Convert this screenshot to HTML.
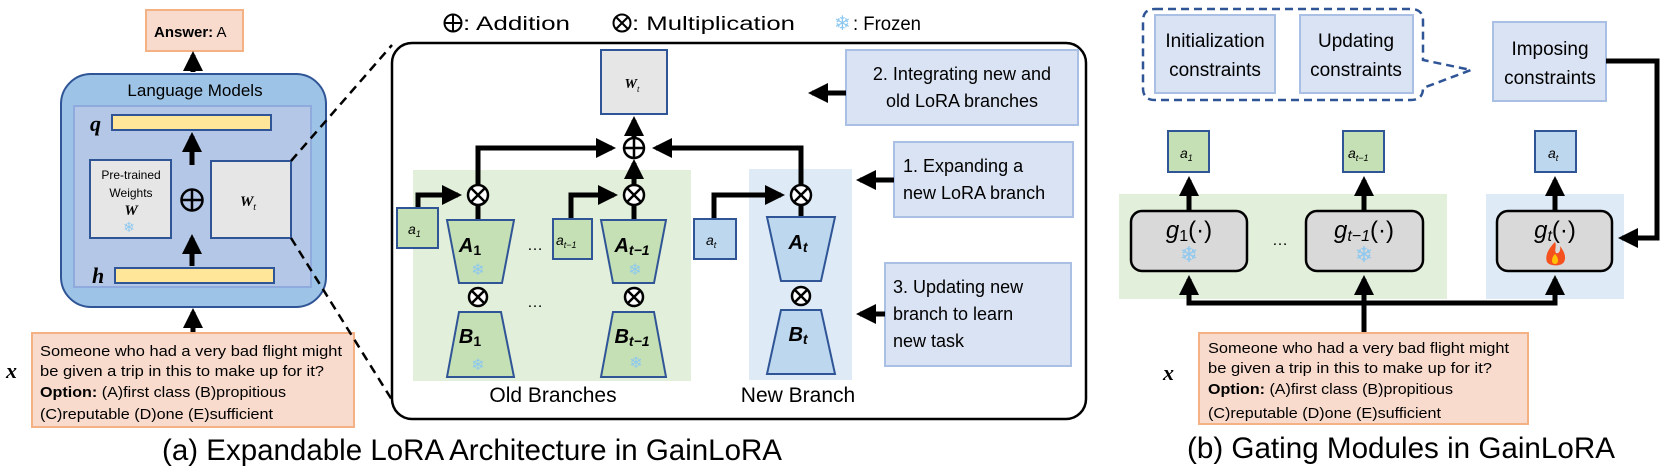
<!DOCTYPE html>
<html><head><meta charset="utf-8"><style>
html,body{margin:0;padding:0;background:#fff;}
svg{display:block;}
text{font-family:"Liberation Sans",sans-serif;}
.serif{font-family:"Liberation Serif",serif;font-style:italic;}
</style></head><body>
<svg width="1661" height="469" viewBox="0 0 1661 469" xmlns="http://www.w3.org/2000/svg">
<defs>
<marker id="ah" markerWidth="4" markerHeight="4" refX="3.2" refY="2" orient="auto" markerUnits="strokeWidth">
<path d="M0,0 L4,2 L0,4 Z" fill="#000"/></marker>
</defs>

<!-- ===== Left panel ===== -->
<rect x="146" y="10" width="97" height="41" fill="#f8dbcd" stroke="#f4b183" stroke-width="2"/>
<text x="154" y="37" font-size="15"><tspan font-weight="bold">Answer:</tspan> A</text>
<line x1="193" y1="72" x2="193" y2="55" stroke="#000" stroke-width="5" marker-end="url(#ah)"/>

<rect x="61" y="74" width="265" height="233" rx="30" fill="#9dc3e6" stroke="#2f5597" stroke-width="2"/>
<text x="195" y="96" font-size="17" text-anchor="middle">Language Models</text>
<rect x="74" y="106" width="237" height="181" fill="#b4c7e7" stroke="#8faadc" stroke-width="2"/>
<text x="90" y="131" font-size="22" class="serif" font-weight="bold">q</text>
<rect x="112" y="115" width="159" height="15" fill="#ffe699" stroke="#2f5597" stroke-width="2"/>
<line x1="192" y1="165" x2="192" y2="136" stroke="#000" stroke-width="5" marker-end="url(#ah)"/>
<rect x="90" y="160" width="81" height="78" fill="#e7e6e6" stroke="#2f5597" stroke-width="2"/>
<text x="131" y="179" font-size="12" text-anchor="middle">Pre-trained</text>
<text x="131" y="197" font-size="12" text-anchor="middle">Weights</text>
<text x="131" y="215" font-size="15" text-anchor="middle" class="serif" font-weight="bold">W</text>
<text x="129" y="232" font-size="14" text-anchor="middle" fill="#8cc8f0">❄</text>
<circle cx="192" cy="200" r="10.5" fill="none" stroke="#000" stroke-width="2.5"/>
<line x1="181.5" y1="200" x2="202.5" y2="200" stroke="#000" stroke-width="2.5"/>
<line x1="192" y1="189.5" x2="192" y2="210.5" stroke="#000" stroke-width="2.5"/>
<rect x="211" y="161" width="80" height="77" fill="#e7e6e6" stroke="#2f5597" stroke-width="2"/>
<text x="248" y="206" font-size="15" text-anchor="middle" class="serif" font-weight="bold">W<tspan font-size="10" dy="4" font-weight="normal">t</tspan></text>
<line x1="192" y1="266" x2="192" y2="238" stroke="#000" stroke-width="5" marker-end="url(#ah)"/>
<text x="92" y="283" font-size="22" class="serif" font-weight="bold">h</text>
<rect x="115" y="268" width="159" height="15" fill="#ffe699" stroke="#2f5597" stroke-width="2"/>
<line x1="193" y1="332" x2="193" y2="312" stroke="#000" stroke-width="5" marker-end="url(#ah)"/>

<text x="6" y="378" font-size="22" class="serif" font-weight="bold">x</text>
<rect x="32" y="333" width="322" height="94" fill="#f8dbcd" stroke="#f4b183" stroke-width="2"/>
<text x="40" y="356" font-size="15" textLength="302" lengthAdjust="spacingAndGlyphs">Someone who had a very bad flight might</text>
<text x="40" y="376" font-size="15" textLength="284" lengthAdjust="spacingAndGlyphs">be given a trip in this to make up for it?</text>
<text x="40" y="397" font-size="15" textLength="246" lengthAdjust="spacingAndGlyphs"><tspan font-weight="bold">Option:</tspan> (A)first class (B)propitious</text>
<text x="40" y="419" font-size="15" textLength="233" lengthAdjust="spacingAndGlyphs">(C)reputable (D)one (E)sufficient</text>

<line x1="291" y1="161" x2="392" y2="45" stroke="#000" stroke-width="2.5" stroke-dasharray="9,6"/>
<line x1="291" y1="238" x2="392" y2="400" stroke="#000" stroke-width="2.5" stroke-dasharray="9,6"/>

<text x="162" y="460" font-size="30" textLength="620" lengthAdjust="spacingAndGlyphs">(a) Expandable LoRA Architecture in GainLoRA</text>

<!-- ===== Legend ===== -->
<circle cx="453" cy="23" r="8.5" fill="none" stroke="#000" stroke-width="2"/>
<line x1="444.5" y1="23" x2="461.5" y2="23" stroke="#000" stroke-width="2"/>
<line x1="453" y1="14.5" x2="453" y2="31.5" stroke="#000" stroke-width="2"/>
<text x="463" y="30" font-size="19" textLength="107" lengthAdjust="spacingAndGlyphs">: Addition</text>
<circle cx="622" cy="23" r="8.5" fill="none" stroke="#000" stroke-width="2"/>
<line x1="616" y1="17" x2="628" y2="29" stroke="#000" stroke-width="2"/>
<line x1="628" y1="17" x2="616" y2="29" stroke="#000" stroke-width="2"/>
<text x="632" y="30" font-size="19" textLength="163" lengthAdjust="spacingAndGlyphs">: Multiplication</text>
<text x="834" y="30" font-size="20" fill="#8cc8f0">❄</text>
<text x="853" y="30" font-size="19" textLength="68" lengthAdjust="spacingAndGlyphs">: Frozen</text>

<!-- ===== Middle panel ===== -->
<rect x="392" y="43" width="694" height="376" rx="20" fill="#fff" stroke="#000" stroke-width="2.5"/>
<rect x="413" y="170" width="278" height="211" fill="#e2efda"/>
<rect x="749" y="169" width="103" height="211" fill="#deebf7"/>

<rect x="601" y="50" width="66" height="64" fill="#e7e6e6" stroke="#2f5597" stroke-width="2"/>
<text x="632" y="88" font-size="14" text-anchor="middle" class="serif" font-weight="bold">W<tspan font-size="9" dy="4" font-weight="normal">t</tspan></text>

<g stroke="#000" stroke-width="5" fill="none">
<polyline points="478,185 478,148 612,148" marker-end="url(#ah)"/>
<polyline points="801,185 801,148 656,148" marker-end="url(#ah)"/>
<line x1="634" y1="137" x2="634" y2="120" marker-end="url(#ah)"/>
<line x1="634" y1="185" x2="634" y2="163" marker-end="url(#ah)"/>
<polyline points="418,208 418,195 458,195" marker-end="url(#ah)"/>
<polyline points="571,219 571,195 614,195" marker-end="url(#ah)"/>
<polyline points="714,219 714,195 781,195" marker-end="url(#ah)"/>
<line x1="478" y1="205" x2="478" y2="220"/>
<line x1="634" y1="205" x2="634" y2="220"/>
<line x1="801" y1="205" x2="801" y2="218"/>
</g>
<g fill="#fff" stroke="#000" stroke-width="2.5">
<circle cx="634" cy="148" r="10"/><circle cx="478" cy="195" r="10"/><circle cx="634" cy="195" r="10"/><circle cx="801" cy="195" r="10"/>
<circle cx="478" cy="297" r="9"/><circle cx="634" cy="297" r="9"/><circle cx="801" cy="296" r="9"/>
</g>
<g stroke="#000" stroke-width="2.5">
<line x1="624" y1="148" x2="644" y2="148"/><line x1="634" y1="138" x2="634" y2="158"/>
<line x1="471" y1="188" x2="485" y2="202"/><line x1="485" y1="188" x2="471" y2="202"/>
<line x1="627" y1="188" x2="641" y2="202"/><line x1="641" y1="188" x2="627" y2="202"/>
<line x1="794" y1="188" x2="808" y2="202"/><line x1="808" y1="188" x2="794" y2="202"/>
<line x1="472" y1="291" x2="484" y2="303"/><line x1="484" y1="291" x2="472" y2="303"/>
<line x1="628" y1="291" x2="640" y2="303"/><line x1="640" y1="291" x2="628" y2="303"/>
<line x1="795" y1="290" x2="807" y2="302"/><line x1="807" y1="290" x2="795" y2="302"/>
</g>

<g stroke="#2f5597" stroke-width="2">
<rect x="397" y="208" width="41" height="40" fill="#c5e0b4"/>
<rect x="553" y="219" width="39" height="40" fill="#c5e0b4"/>
<rect x="694" y="219" width="42" height="40" fill="#bdd7ee"/>
<polygon points="447,220 514,220 502,283 459,283" fill="#c5e0b4"/>
<polygon points="459,312 501,312 514,377 447,377" fill="#c5e0b4"/>
<polygon points="601,220 666,220 654,283 613,283" fill="#c5e0b4"/>
<polygon points="613,312 654,312 666,377 601,377" fill="#c5e0b4"/>
<polygon points="767,217 835,217 821,281 781,281" fill="#bdd7ee"/>
<polygon points="781,310 821,310 835,374 767,374" fill="#bdd7ee"/>
</g>
<g class="serif" font-size="14">
<text x="408" y="234">a<tspan font-size="9" dy="3">1</tspan></text>
<text x="556" y="245">a<tspan font-size="9" dy="3">t−1</tspan></text>
<text x="706" y="245">a<tspan font-size="9" dy="3">t</tspan></text>
</g>
<g class="serif" font-weight="bold" font-size="20">
<text x="470" y="252" text-anchor="middle">A<tspan font-size="14" dy="3" font-style="normal">1</tspan></text>
<text x="470" y="343" text-anchor="middle">B<tspan font-size="14" dy="3" font-style="normal">1</tspan></text>
<text x="632" y="252" text-anchor="middle">A<tspan font-size="14" dy="3">t−1</tspan></text>
<text x="632" y="343" text-anchor="middle">B<tspan font-size="14" dy="3">t−1</tspan></text>
<text x="798" y="249" text-anchor="middle">A<tspan font-size="14" dy="3">t</tspan></text>
<text x="798" y="341" text-anchor="middle">B<tspan font-size="14" dy="3">t</tspan></text>
</g>
<g font-size="16" fill="#8cc8f0" text-anchor="middle">
<text x="478" y="275">❄</text><text x="478" y="370">❄</text>
<text x="635" y="275">❄</text><text x="636" y="368">❄</text>
</g>
<text x="535" y="250" font-size="16" text-anchor="middle">…</text>
<text x="535" y="307" font-size="16" text-anchor="middle">…</text>
<text x="553" y="402" font-size="21" text-anchor="middle">Old Branches</text>
<text x="798" y="402" font-size="21" text-anchor="middle">New Branch</text>

<g fill="#dae3f3" stroke="#a9bfe3" stroke-width="2">
<rect x="846" y="50" width="232" height="75"/>
<rect x="894" y="142" width="179" height="75"/>
<rect x="885" y="263" width="186" height="103"/>
</g>
<g font-size="18">
<text x="962" y="80" text-anchor="middle">2. Integrating new and</text>
<text x="962" y="107" text-anchor="middle">old LoRA branches</text>
<text x="903" y="172">1. Expanding a</text>
<text x="903" y="199">new LoRA branch</text>
<text x="893" y="293">3. Updating new</text>
<text x="893" y="320">branch to learn</text>
<text x="893" y="347">new task</text>
</g>
<g stroke="#000" stroke-width="5">
<line x1="846" y1="93" x2="812" y2="93" marker-end="url(#ah)"/>
<line x1="894" y1="180" x2="860" y2="180" marker-end="url(#ah)"/>
<line x1="885" y1="314" x2="860" y2="314" marker-end="url(#ah)"/>
</g>

<!-- ===== Right panel ===== -->
<path d="M1155,9 H1411 Q1423,9 1423,21 V60 L1471,70 L1423,88 V88 Q1423,100 1411,100 H1155 Q1143,100 1143,88 V21 Q1143,9 1155,9 Z" fill="none" stroke="#2f5597" stroke-width="2.5" stroke-dasharray="8,5"/>
<g fill="#dae3f3" stroke="#a9bfe3" stroke-width="2">
<rect x="1155" y="15" width="120" height="78"/>
<rect x="1300" y="15" width="113" height="78"/>
<rect x="1493" y="22" width="113" height="79"/>
</g>
<g font-size="19" text-anchor="middle">
<text x="1215" y="47">Initialization</text>
<text x="1215" y="76">constraints</text>
<text x="1356" y="47">Updating</text>
<text x="1356" y="76">constraints</text>
<text x="1550" y="55">Imposing</text>
<text x="1550" y="84">constraints</text>
</g>

<rect x="1119" y="194" width="328" height="105" fill="#e2efda"/>
<rect x="1486" y="194" width="138" height="105" fill="#deebf7"/>

<g stroke="#000" stroke-width="5" fill="none">
<polyline points="1606,61 1657,61 1657,238 1622,238" marker-end="url(#ah)"/>
<line x1="1189" y1="211" x2="1189" y2="180" marker-end="url(#ah)"/>
<line x1="1364" y1="211" x2="1364" y2="180" marker-end="url(#ah)"/>
<line x1="1555" y1="211" x2="1555" y2="180" marker-end="url(#ah)"/>
<polyline points="1189,285 1189,303 1555,303 1555,285"/>
<line x1="1189" y1="292" x2="1189" y2="279" marker-end="url(#ah)"/>
<line x1="1364" y1="333" x2="1364" y2="279" marker-end="url(#ah)"/>
<line x1="1555" y1="292" x2="1555" y2="279" marker-end="url(#ah)"/>
</g>
<g stroke="#2f5597" stroke-width="2">
<rect x="1168" y="131" width="41" height="41" fill="#c5e0b4"/>
<rect x="1343" y="131" width="41" height="41" fill="#c5e0b4"/>
<rect x="1535" y="131" width="41" height="41" fill="#bdd7ee"/>
</g>
<g class="serif" font-size="14">
<text x="1180" y="158">a<tspan font-size="9" dy="3">1</tspan></text>
<text x="1348" y="158">a<tspan font-size="9" dy="3">t−1</tspan></text>
<text x="1548" y="158">a<tspan font-size="9" dy="3">t</tspan></text>
</g>
<g fill="#d9d9d9" stroke="#000" stroke-width="2.5">
<rect x="1131" y="211" width="116" height="60" rx="11"/>
<rect x="1306" y="211" width="117" height="60" rx="11"/>
<rect x="1497" y="211" width="115" height="60" rx="11"/>
</g>
<g class="serif" font-size="24" text-anchor="middle">
<text x="1189" y="238">g<tspan font-size="16" dy="3" font-style="normal">1</tspan><tspan dy="-3" font-style="normal">(·)</tspan></text>
<text x="1364" y="238">g<tspan font-size="16" dy="3">t−1</tspan><tspan dy="-3" font-style="normal">(·)</tspan></text>
<text x="1555" y="238">g<tspan font-size="16" dy="3">t</tspan><tspan dy="-3" font-style="normal">(·)</tspan></text>
</g>
<g font-size="22" fill="#8cc8f0" text-anchor="middle">
<text x="1189" y="262">❄</text><text x="1364" y="262">❄</text>
</g>
<path d="M1555,242 C1547,250 1545,257 1547,262 C1549,266 1561,267 1564,262 C1567,256 1563,250 1560,246 C1561,252 1558,254 1556,253 C1554,250 1557,246 1555,242 Z" fill="#f4511e"/>
<path d="M1555,254 C1551,258 1551,264 1555,264 C1559,264 1559,258 1555,254 Z" fill="#ffc107"/>
<text x="1280" y="245" font-size="16" text-anchor="middle">…</text>

<text x="1163" y="380" font-size="22" class="serif" font-weight="bold">x</text>
<rect x="1199" y="333" width="329" height="91" fill="#f8dbcd" stroke="#f4b183" stroke-width="2"/>
<text x="1208" y="353" font-size="15" textLength="301" lengthAdjust="spacingAndGlyphs">Someone who had a very bad flight might</text>
<text x="1208" y="373" font-size="15" textLength="284" lengthAdjust="spacingAndGlyphs">be given a trip in this to make up for it?</text>
<text x="1208" y="394" font-size="15" textLength="245" lengthAdjust="spacingAndGlyphs"><tspan font-weight="bold">Option:</tspan> (A)first class (B)propitious</text>
<text x="1208" y="418" font-size="15" textLength="233" lengthAdjust="spacingAndGlyphs">(C)reputable (D)one (E)sufficient</text>

<text x="1187" y="458" font-size="30" textLength="428" lengthAdjust="spacingAndGlyphs">(b) Gating Modules in GainLoRA</text>
</svg>
</body></html>
